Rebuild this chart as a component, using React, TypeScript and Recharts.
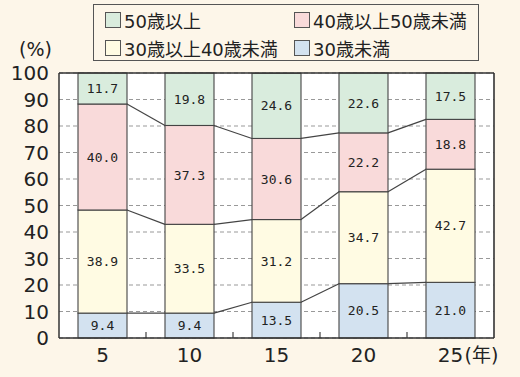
import React from 'react';
import { BarChart, Bar, XAxis, YAxis, CartesianGrid, LabelList } from 'recharts';

const years = ['5', '10', '15', '20', '25'];
const yearUnit = '(年)';
const under30 = [9.4, 9.4, 13.5, 20.5, 21.0];
const age30to40 = [38.9, 33.5, 31.2, 34.7, 42.7];
const age40to50 = [40.0, 37.3, 30.6, 22.2, 18.8];
const over50 = [11.7, 19.8, 24.6, 22.6, 17.5];
const yTicks = [0, 10, 20, 30, 40, 50, 60, 70, 80, 90, 100];
const seriesNames = ['30歳未満', '30歳以上40歳未満', '40歳以上50歳未満', '50歳以上'];
const seriesKeys = ['a', 'b', 'c', 'd'];
const seriesColors = ['#d3e2f0', '#fffbe3', '#f9dada', '#d9ecdd'];
const legendOrder = [3, 2, 1, 0];

const data = years.map((y, i) => ({
  year: y,
  a: under30[i],
  b: age30to40[i],
  c: age40to50[i],
  d: over50[i],
}));

const W = 520;
const H = 377;
const Y_W = 59;
const RIGHT_M = 25;
const TOP_M = 72;
const X_H = 39;
const PLOT_W = W - Y_W - RIGHT_M - 1;
const BAND = PLOT_W / years.length;
const BG = '#fdf6e9';
const INK = '#333';
const FONT = '"DejaVu Sans", "Noto Sans CJK JP", sans-serif';

const cum = (row: any, upto: number) => {
  let s = 0;
  for (let j = 0; j <= upto; j++) s += row[seriesKeys[j]];
  return s;
};

const makeShape = (s: number) => (props: any) => {
  const { x, y, width, height, index, payload, fill } = props;
  const val = payload[seriesKeys[s]];
  const k = height / val;
  const below = s > 0 ? cum(payload, s - 1) : 0;
  const zeroY = y + height + below * k;
  const gap = BAND - width;
  const next = data[index + 1];
  const elems: any[] = [
    <rect key="r" x={x} y={y} width={width} height={height} fill={fill} stroke="#444" strokeWidth={1.1} />,
  ];
  if (next && s < seriesKeys.length - 1) {
    const ny = zeroY - cum(next, s) * k;
    elems.push(
      <line key="l" x1={x + width} y1={y} x2={x + width + gap} y2={ny} stroke="#444" strokeWidth={1.2} />
    );
  }
  if (next && s === 0) {
    const tx = x + width + gap / 2;
    elems.push(<line key="t" x1={tx} y1={zeroY} x2={tx} y2={zeroY - 6} stroke="#444" strokeWidth={1.2} />);
  }
  return <g>{elems}</g>;
};

const XTick = (props: any) => {
  const { x, y, payload, index } = props;
  const last = index === years.length - 1;
  return (
    <g>
      <text x={x} y={y} dy={16} textAnchor="middle" fontSize={20} fill="#222" fontFamily={FONT}>
        {payload.value}
      </text>
      {last && (
        <text x={x + 14} y={y} dy={16} textAnchor="start" fontSize={19} fill="#222" fontFamily={FONT}>
          {yearUnit}
        </text>
      )}
    </g>
  );
};

const Legend = () => (
  <div
    style={{
      position: 'absolute',
      left: 93,
      top: 4,
      width: 386,
      height: 57,
      border: '1.5px solid #555',
      boxSizing: 'border-box',
      display: 'grid',
      gridTemplateColumns: '189px 180px',
      gridTemplateRows: '28px 28px',
      paddingLeft: 11,
      paddingTop: 1,
      fontFamily: FONT,
      fontSize: 18,
      color: '#222',
    }}
  >
    {legendOrder.map((s) => (
      <div key={s} style={{ display: 'flex', alignItems: 'center', whiteSpace: 'nowrap' }}>
        <span
          style={{
            display: 'inline-block',
            width: 16,
            height: 16,
            background: seriesColors[s],
            border: '1.3px solid #555',
            boxSizing: 'border-box',
            marginRight: 3,
          }}
        />
        {seriesNames[s]}
      </div>
    ))}
  </div>
);

export default function App() {
  return (
    <div style={{ position: 'absolute', left: 0, top: 0, width: W, height: H, background: BG }}>
      <Legend />
      <BarChart
        width={W}
        height={H}
        data={data}
        margin={{ top: TOP_M, right: RIGHT_M, bottom: 0, left: 0 }}
        barSize={49}
      >
        <CartesianGrid vertical={false} stroke="#999" strokeDasharray="4 3" fill="#fff" fillOpacity={1} />
        <XAxis
          dataKey="year"
          height={X_H}
          tickLine={false}
          axisLine={{ stroke: INK, strokeWidth: 1.5 }}
          tick={<XTick />}
          interval={0}
        />
        <XAxis
          xAxisId="top"
          orientation="top"
          dataKey="year"
          height={1}
          tick={false}
          tickLine={false}
          axisLine={{ stroke: INK, strokeWidth: 1.6 }}
        />
        <YAxis
          domain={[0, 100]}
          ticks={yTicks}
          width={Y_W}
          interval={0}
          tickLine={false}
          tickMargin={4}
          axisLine={{ stroke: INK, strokeWidth: 1.5 }}
          tick={{ fontSize: 20, fill: '#222', fontFamily: FONT }}
          label={{
            content: (p: any) => (
              <text x={p.viewBox.x + p.viewBox.width - 7} y={p.viewBox.y - 17} textAnchor="end" fontSize={19} fill="#222" fontFamily={FONT}>
                (%)
              </text>
            ),
          }}
        />
        <YAxis
          yAxisId="right"
          orientation="right"
          domain={[0, 100]}
          width={1}
          tick={false}
          tickLine={false}
          axisLine={{ stroke: INK, strokeWidth: 1.6 }}
        />
        {seriesKeys.map((key, s) => (
          <Bar
            key={key}
            dataKey={key}
            stackId="s"
            name={seriesNames[s]}
            fill={seriesColors[s]}
            shape={makeShape(s)}
            isAnimationActive={false}
          >
            <LabelList
              dataKey={key}
              position="center"
              formatter={(v: any) => Number(v).toFixed(1)}
              style={{ fontSize: 13, fill: '#222', fontFamily: '"DejaVu Sans Mono", monospace' }}
            />
          </Bar>
        ))}
      </BarChart>
    </div>
  );
}
